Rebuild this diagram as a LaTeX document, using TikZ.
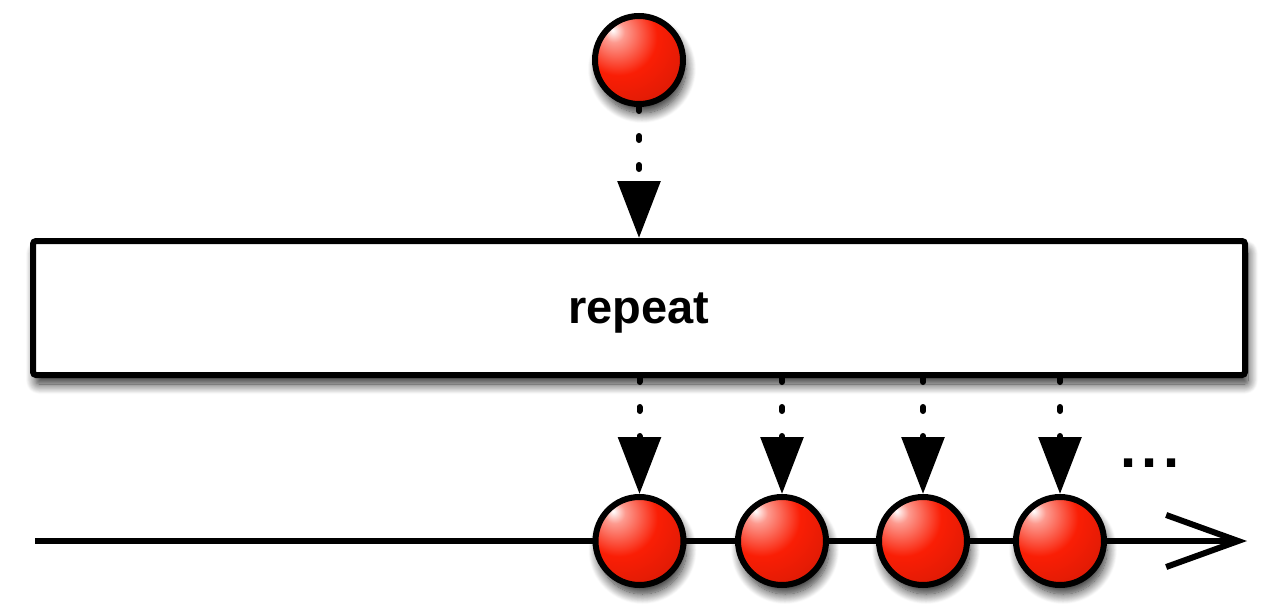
\documentclass[tikz,border=0pt]{standalone}
\usepackage{fontspec}
\setmainfont{Liberation Sans}
\usetikzlibrary{arrows.meta,shadows.blur}
\definecolor{ballred}{RGB}{250,30,5}
\colorlet{ballhi}{white!55!ballred}
\colorlet{ballmid}{ballred!88!black}
\colorlet{balldark}{ballred!58!black}
\colorlet{balldarker}{ballred!42!black}
\pgfdeclareradialshading{glossyball}{\pgfpoint{-15bp}{17bp}}{color(0bp)=(white); color(6bp)=(ballhi); color(22bp)=(ballred); color(40bp)=(ballmid); color(64bp)=(balldark); color(100bp)=(balldarker)}
\tikzset{
  softshadow/.style={blur shadow={shadow blur steps=14, shadow xshift=3pt, shadow yshift=-9pt, shadow opacity=85, shadow blur radius=10pt}},
  ball/.style={circle, draw=black, line width=6pt, minimum size=88pt, inner sep=0pt, shading=glossyball, softshadow},
  opbox/.style={rectangle, draw=black, fill=white, line width=6pt, rounded corners=3pt, minimum width=1212pt, minimum height=134pt, inner sep=0pt, softshadow},
  boxtext/.style={font=\fontsize{47pt}{50pt}\selectfont\bfseries, anchor=base, inner sep=0pt},
  dotarrow/.style={line width=6pt, line cap=round, dash pattern=on 4pt off 25pt, -{Triangle[length=57pt,width=42pt]}},
  timeline/.style={line width=6pt, -{Straight Barb[length=72pt,width=52pt]}},
  moretext/.style={font=\fontsize{58pt}{60pt}\selectfont\bfseries, anchor=base, inner sep=0pt}
}
\begin{document}
\begin{tikzpicture}[x=1pt,y=-1pt]
\useasboundingbox (0,0) rectangle (1280,610);
% timeline
\coordinate (tlstart) at (35,541);
\coordinate (tlend) at (1247,541);
\draw[timeline] (tlstart) -- (tlend);
% operator box
\node[opbox] (box) at (639,308) {};
\node[boxtext] (label) at (639,323) {repeat};
% source ball
\node[ball] (src) at (639,60) {};
\draw[dotarrow] (src.south) -- (src.south |- box.north);
% output balls
\node[ball] (o1) at (639.5,541) {};
\node[ball] (o2) at (782,541) {};
\node[ball] (o3) at (923,541) {};
\node[ball] (o4) at (1060,541) {};
\foreach \n in {o1,o2,o3,o4}{
  \draw[dotarrow] (\n.north |- box.south) -- (\n.north);
}
\node[moretext] (more) at (1150,467) {.\kern5pt.\kern5pt.};
\end{tikzpicture}
\end{document}
